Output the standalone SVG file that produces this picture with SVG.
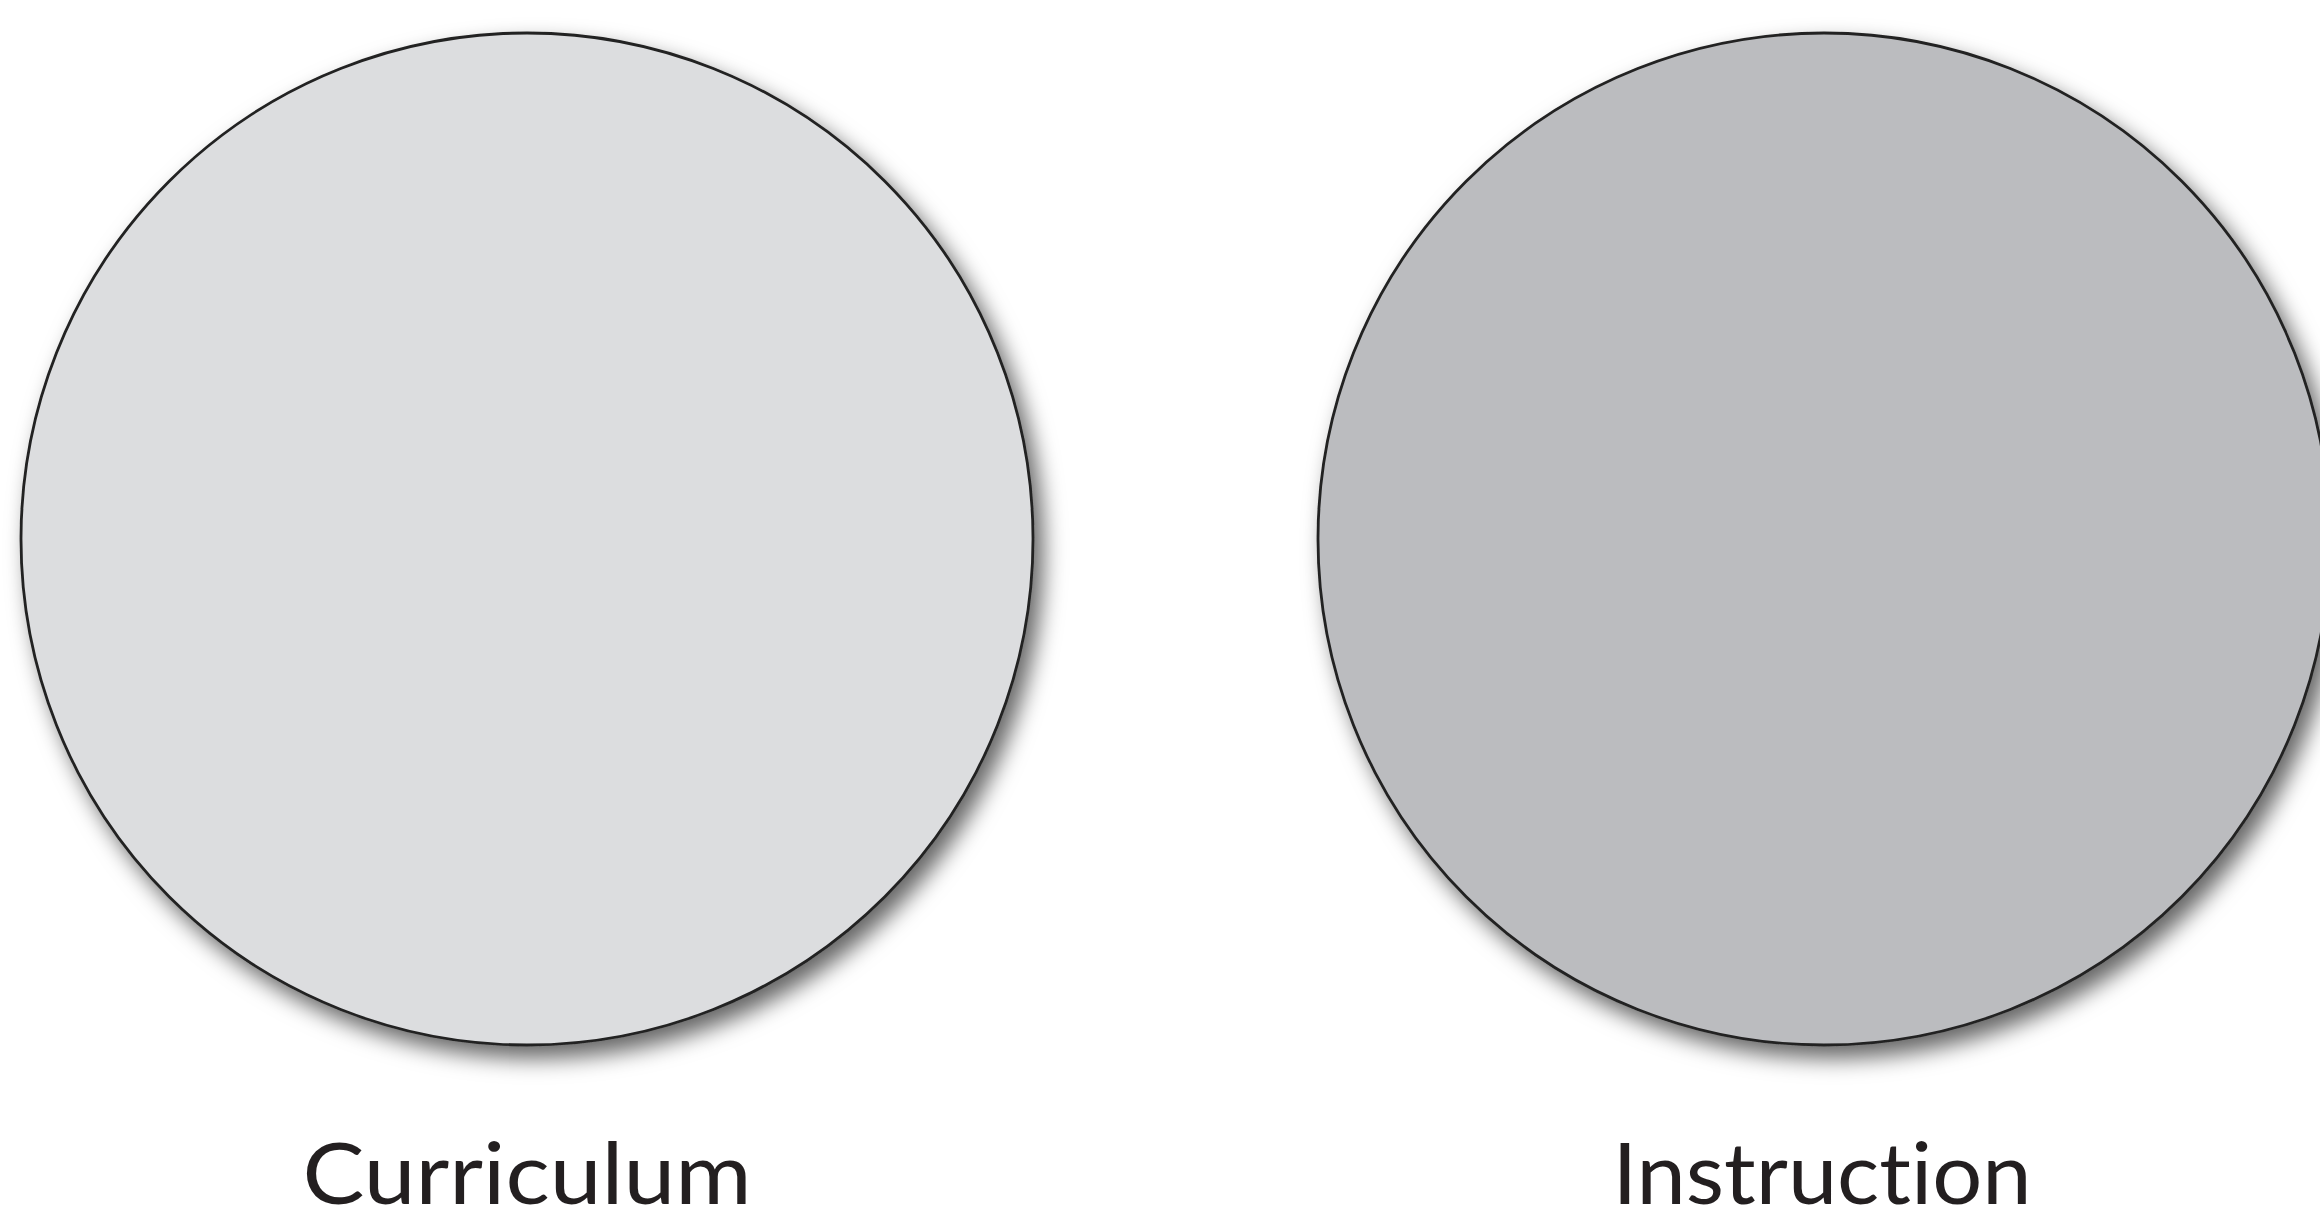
<svg xmlns="http://www.w3.org/2000/svg" width="2320" height="1222" viewBox="0 0 2320 1222">
<defs>
<filter id="shadow" x="-10%" y="-10%" width="125%" height="125%">
<feDropShadow dx="9" dy="12" stdDeviation="11" flood-color="#000" flood-opacity="0.6"/>
</filter>
<style>
.circ{stroke:#222;stroke-width:2.8;filter:url(#shadow)}
.lbl{font-family:Lato,"Open Sans","Liberation Sans",sans-serif;font-size:86px;fill:#231f20;text-anchor:middle;font-variant-ligatures:none;font-feature-settings:"liga" 0}
</style>
</defs>
<rect width="2320" height="1222" fill="#fff"/>
<g id="connectors"/>
<g id="curriculum">
<circle class="circ" cx="527" cy="539" r="506" fill="#dcdddf"/>
<text class="lbl" x="527" y="1204" textLength="449" lengthAdjust="spacingAndGlyphs">Curriculum</text>
</g>
<g id="instruction">
<circle class="circ" cx="1824" cy="539" r="506" fill="#bbbcbf"/>
<text class="lbl" x="1822" y="1204" textLength="419" lengthAdjust="spacingAndGlyphs">Instruction</text>
</g>
</svg>
